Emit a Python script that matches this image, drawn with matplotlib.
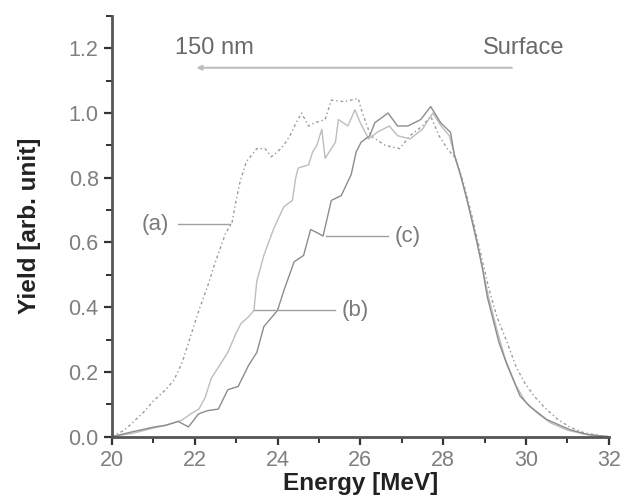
import matplotlib.pyplot as plt
from matplotlib.ticker import MultipleLocator

# curve (a)
energy_a = [20.0, 20.3, 20.5, 20.8, 21.0, 21.3, 21.5, 21.7, 21.9, 22.1, 22.3, 22.5,
            22.75, 22.9, 23.0, 23.1, 23.25, 23.5, 23.7, 23.85, 24.0, 24.15, 24.3,
            24.45, 24.58, 24.75, 24.9, 25.15, 25.3, 25.6, 25.95, 26.05, 26.25, 26.6,
            26.95, 27.2, 27.5, 27.7, 27.9, 28.1, 28.3, 28.5, 28.7, 28.9, 29.1, 29.3,
            29.55, 29.75, 29.95, 30.2, 30.45, 30.75, 31.05, 31.4, 31.8, 32.0]
yield_a = [0.0, 0.02, 0.043, 0.08, 0.11, 0.145, 0.175, 0.23, 0.31, 0.39, 0.46, 0.54,
           0.63, 0.66, 0.73, 0.79, 0.85, 0.89, 0.89, 0.865, 0.88, 0.9, 0.93,
           0.97, 1.0, 0.96, 0.97, 0.98, 1.04, 1.035, 1.045, 1.0, 0.93, 0.9,
           0.89, 0.93, 0.96, 0.99, 0.93, 0.89, 0.86, 0.78, 0.68, 0.57, 0.46, 0.37,
           0.29, 0.22, 0.17, 0.125, 0.09, 0.055, 0.03, 0.012, 0.003, 0.0]

# curve (b)
energy_b = [20.0, 20.5, 20.96, 21.3, 21.68, 21.9, 22.1, 22.25, 22.4, 22.6, 22.8, 23.0,
            23.12, 23.3, 23.43, 23.5, 23.67, 23.9, 24.15, 24.36, 24.44, 24.5, 24.75,
            24.85, 24.95, 25.07, 25.15, 25.4, 25.47, 25.7, 25.87, 26.0, 26.2, 26.4,
            26.7, 26.9, 27.2, 27.5, 27.75, 27.95, 28.15, 28.3, 28.5, 28.7, 28.9, 29.1,
            29.3, 29.5, 29.75, 30.0, 30.3, 30.6, 31.0, 31.4, 31.8, 32.0]
yield_b = [0.0, 0.01, 0.025, 0.035, 0.05, 0.07, 0.085, 0.12, 0.18, 0.22, 0.26, 0.32,
           0.35, 0.37, 0.39, 0.48, 0.56, 0.64, 0.71, 0.73, 0.8, 0.83, 0.84,
           0.88, 0.9, 0.95, 0.86, 0.91, 0.98, 0.96, 1.01, 0.97, 0.92, 0.94,
           0.96, 0.93, 0.92, 0.95, 1.0, 0.96, 0.93, 0.86, 0.77, 0.67, 0.55, 0.43,
           0.33, 0.24, 0.16, 0.105, 0.07, 0.042, 0.02, 0.008, 0.002, 0.0]

# curve (c)
energy_c = [20.0, 20.5, 21.03, 21.3, 21.6, 21.85, 22.09, 22.3, 22.57, 22.8, 23.05,
            23.3, 23.5, 23.67, 24.0, 24.15, 24.4, 24.63, 24.8, 24.96, 25.1, 25.3,
            25.54, 25.78, 25.9, 26.02, 26.23, 26.35, 26.67, 26.9, 27.15, 27.46, 27.7,
            27.94, 28.18, 28.27, 28.42, 28.58, 28.82, 28.95, 29.07, 29.23, 29.35,
            29.55, 29.86, 30.1, 30.5, 31.05, 31.5, 32.0]
yield_c = [0.0, 0.015, 0.03, 0.035, 0.047, 0.03, 0.07, 0.08, 0.085, 0.145, 0.155,
           0.22, 0.26, 0.34, 0.39, 0.45, 0.54, 0.56, 0.64, 0.63, 0.62, 0.73,
           0.745, 0.81, 0.88, 0.91, 0.93, 0.97, 1.0, 0.96, 0.96, 0.98, 1.02,
           0.97, 0.94, 0.87, 0.81, 0.73, 0.6, 0.52, 0.43, 0.35, 0.29,
           0.22, 0.125, 0.093, 0.053, 0.022, 0.006, 0.0]

plt.rcParams['font.family'] = ['Liberation Sans', 'DejaVu Sans']

fig = plt.figure(figsize=(6.25, 4.99), dpi=100)
ax = fig.add_axes([0.179, 0.125, 0.795, 0.843])

ax.plot(energy_a, yield_a, color="#9a9a9a", lw=1.0, linestyle=(0, (2, 2, 1, 2)))
ax.plot(energy_b, yield_b, color="#bdbdbd", lw=1.0)
ax.plot(energy_c, yield_c, color="#8c8c8c", lw=1.0)

# label leader lines
ax.plot([21.6, 22.85], [0.657, 0.657], color="#a0a0a0", lw=1)
ax.text(21.05, 0.657, "(a)", fontsize=16, color="#7a7a7a", ha="center", va="center")
ax.plot([23.43, 25.4], [0.39, 0.39], color="#a0a0a0", lw=1)
ax.text(25.87, 0.39, "(b)", fontsize=16, color="#7a7a7a", ha="center", va="center")
ax.plot([25.16, 26.67], [0.62, 0.62], color="#a0a0a0", lw=1)
ax.text(27.15, 0.62, "(c)", fontsize=16, color="#7a7a7a", ha="center", va="center")

# depth arrow
ax.annotate("", xy=(22.04, 1.14), xytext=(29.66, 1.14),
            arrowprops=dict(arrowstyle="-|>", color="#bdbdbd", lw=1.5,
                            mutation_scale=7, shrinkA=0, shrinkB=0))
ax.text(22.47, 1.2, "150 nm", fontsize=17, color="#6a6a6a", ha="center", va="center")
ax.text(29.95, 1.2, "Surface", fontsize=17, color="#6a6a6a", ha="center", va="center")

ax.set_xlim(20, 32)
ax.set_ylim(0, 1.3)
ax.xaxis.set_major_locator(MultipleLocator(2))
ax.xaxis.set_minor_locator(MultipleLocator(1))
ax.yaxis.set_major_locator(MultipleLocator(0.2))
ax.yaxis.set_minor_locator(MultipleLocator(0.1))
ax.set_yticks([0, 0.2, 0.4, 0.6, 0.8, 1.0, 1.2])
ax.set_yticklabels(["0.0", "0.2", "0.4", "0.6", "0.8", "1.0", "1.2"])

for s in ["top", "right"]:
    ax.spines[s].set_visible(False)
for s in ["left", "bottom"]:
    ax.spines[s].set_color("#555555")
    ax.spines[s].set_linewidth(2)

ax.tick_params(which="major", direction="out", length=6, width=1.6,
               color="#333333", labelsize=15.5, labelcolor="#7f7f7f")
ax.tick_params(which="minor", direction="out", length=4, width=1.4, color="#333333")

ax.set_xlabel("Energy [MeV]", fontsize=17.5, fontweight="bold", color="#222222", labelpad=1)
ax.set_ylabel("Yield [arb. unit]", fontsize=17.5, fontweight="bold", color="#222222", labelpad=20)

plt.savefig("out.png", dpi=100)
